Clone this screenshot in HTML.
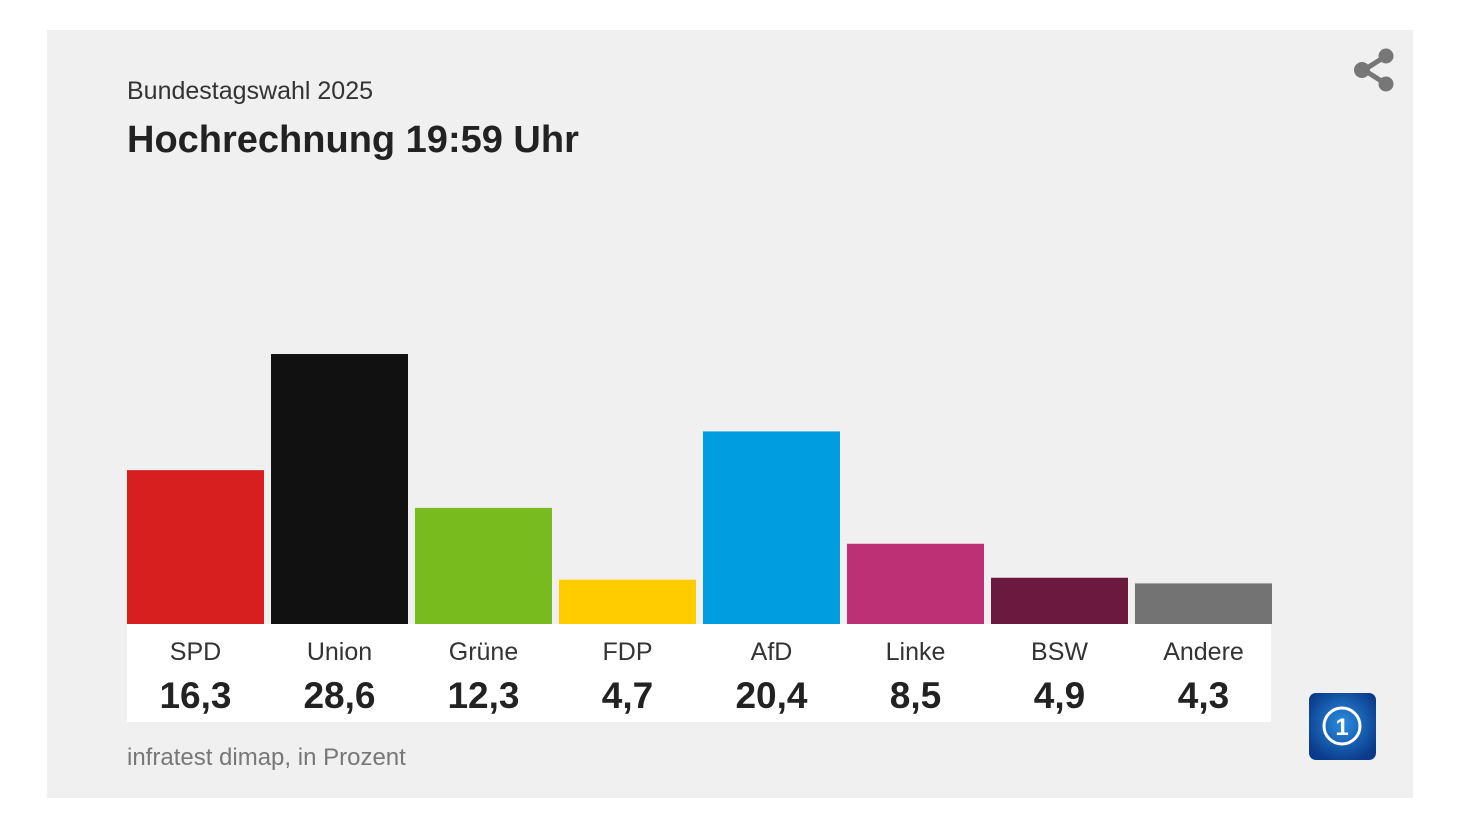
<!DOCTYPE html>
<html><head><meta charset="utf-8"><style>
html,body{margin:0;padding:0;background:#fff;width:1480px;height:824px;overflow:hidden}
svg{display:block;font-family:"Liberation Sans",sans-serif}
</style></head><body>
<svg id="chart" width="1480" height="824">
<rect x="47" y="30" width="1366" height="768" fill="#f0f0f0"/>
<text x="127" y="99" font-size="25" fill="#333">Bundestagswahl 2025</text>
<text x="127" y="152" font-size="38" font-weight="bold" fill="#222">Hochrechnung 19:59 Uhr</text>
<g fill="#777" stroke="#777">
<line x1="1386" y1="56" x2="1364" y2="70" stroke-width="5"/>
<line x1="1386" y1="84" x2="1364" y2="70" stroke-width="5"/>
<circle cx="1386" cy="56" r="7.5" stroke="none"/><circle cx="1362" cy="70" r="8" stroke="none"/><circle cx="1386" cy="84" r="7.5" stroke="none"/>
</g>
<rect x="127" y="624" width="1144" height="98" fill="#fff"/>
<g id="bars"></g>
<text x="127" y="765" font-size="24" fill="#777">infratest dimap, in Prozent</text>
<g>
<defs><radialGradient id="lg" cx="0.5" cy="0.45" r="0.6"><stop offset="0" stop-color="#2a8de0"/><stop offset="1" stop-color="#0a3a8a"/></radialGradient></defs>
<rect x="1309" y="693" width="67" height="67" rx="7" fill="url(#lg)"/>
<circle cx="1342" cy="726" r="18" fill="none" stroke="#fff" stroke-width="3"/>
<text x="1342" y="735" font-size="24" font-weight="bold" fill="#fff" text-anchor="middle">1</text>
</g>
</svg>
<script>
const parties = ["SPD","Union","Grüne","FDP","AfD","Linke","BSW","Andere"];
const values = [16.3,28.6,12.3,4.7,20.4,8.5,4.9,4.3];
const colors = ["#d71f1f","#111111","#78bb1e","#ffcc00","#009ee0","#bd3075","#6b1a3e","#737373"];
const baseY=624, pxPer=9.44, x0=127, step=144, bw=137;
const yScale=v=>baseY-v*pxPer;
const xScale=i=>x0+i*step;
const g=document.getElementById('bars');
const NS='http://www.w3.org/2000/svg';
parties.forEach((p,i)=>{
  const r=document.createElementNS(NS,'rect');
  r.setAttribute('x',xScale(i));r.setAttribute('y',yScale(values[i]));
  r.setAttribute('width',bw);r.setAttribute('height',baseY-yScale(values[i]));
  r.setAttribute('fill',colors[i]);
  
  
  g.appendChild(r);
  const t=document.createElementNS(NS,'text');
  t.setAttribute('x',xScale(i)+bw/2);t.setAttribute('y',660);
  t.setAttribute('text-anchor','middle');t.setAttribute('font-size','25');t.setAttribute('fill','#333');
  t.textContent=p;
  
  
  g.appendChild(t);
  const v=document.createElementNS(NS,'text');
  v.setAttribute('x',xScale(i)+bw/2);v.setAttribute('y',708);
  v.setAttribute('text-anchor','middle');v.setAttribute('font-size','37');v.setAttribute('font-weight','bold');v.setAttribute('fill','#222');
  v.textContent=values[i].toFixed(1).replace('.',',');
  
  
  g.appendChild(v);
});
</script>
</body></html>
